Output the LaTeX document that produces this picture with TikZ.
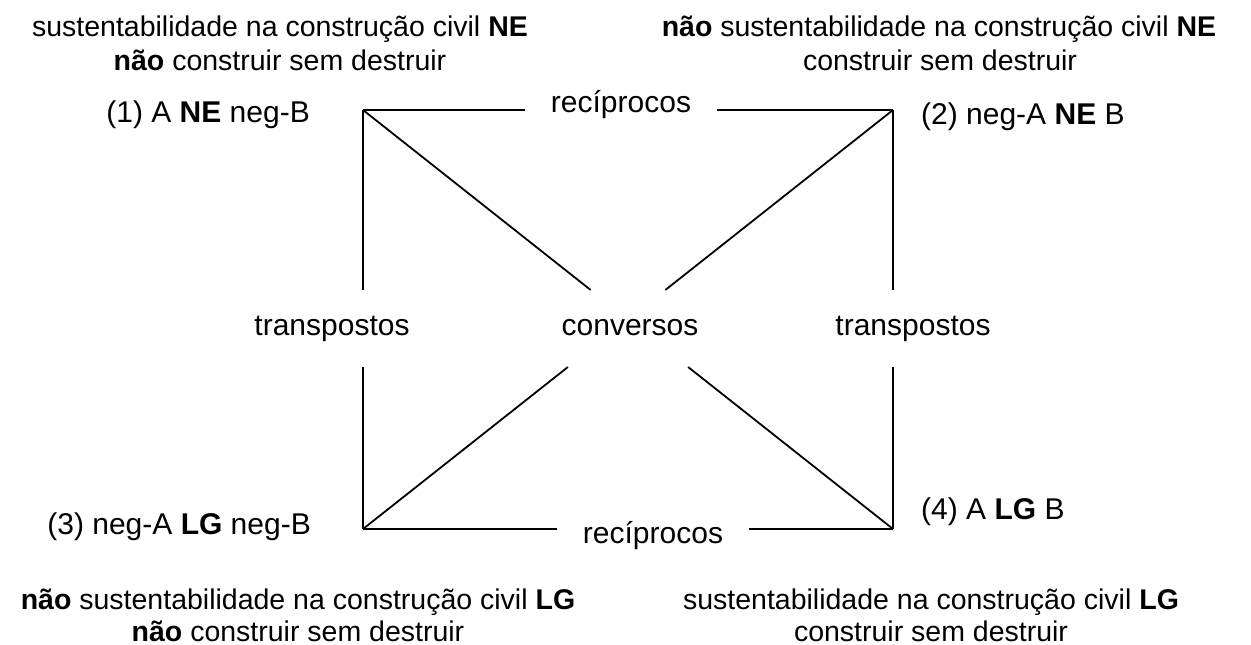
\documentclass[tikz,border=0pt]{standalone}
\usepackage{fontspec}
\setmainfont{Liberation Sans}
\usetikzlibrary{calc}
\begin{document}
\begin{tikzpicture}[x=1pt,y=-1pt,
  edge/.style={line width=1.8pt, line cap=butt},
  txt/.style={inner sep=0pt, font=\fontsize{28.5}{34}\selectfont},
  lab/.style={inner sep=0pt, font=\fontsize{30}{36}\selectfont},
  txtc/.style={txt, anchor=base},
  labc/.style={lab, anchor=base},
  labr/.style={lab, anchor=base east},
  labl/.style={lab, anchor=base west}]
\useasboundingbox (0,0) rectangle (1251,645);
% corners
\coordinate (TL) at (363,110);
\coordinate (TR) at (893,110);
\coordinate (BL) at (363,529);
\coordinate (BR) at (893,529);
% gap ends
\coordinate (topL) at (525,110);
\coordinate (topR) at (717,110);
\coordinate (botL) at (557,529);
\coordinate (botR) at (749,529);
\coordinate (lvT) at (363,290);
\coordinate (lvB) at (363,367);
\coordinate (rvT) at (893,290);
\coordinate (rvB) at (893,367);
\coordinate (d1T) at ($(TL)!0.4296!(BR)$);
\coordinate (d1B) at ($(TL)!0.6134!(BR)$);
\coordinate (d2T) at ($(TR)!0.4296!(BL)$);
\coordinate (d2B) at ($(TR)!0.6134!(BL)$);
% edges
\draw[edge] (TL) -- (topL);
\draw[edge] (topR) -- (TR);
\draw[edge] (BL) -- (botL);
\draw[edge] (botR) -- (BR);
\draw[edge] (TL) -- (lvT);
\draw[edge] (lvB) -- (BL);
\draw[edge] (TR) -- (rvT);
\draw[edge] (rvB) -- (BR);
\draw[edge] (TL) -- (d1T);
\draw[edge] (d1B) -- (BR);
\draw[edge] (TR) -- (d2T);
\draw[edge] (d2B) -- (BL);
% relation labels
\node[labc] (recT) at (621,112) {recíprocos};
\node[labc] (recB) at (653,543) {recíprocos};
\node[labc] (trL) at (332,335) {transpostos};
\node[labc] (conv) at (630,335) {conversos};
\node[labc] (trR) at (913,335) {transpostos};
% corner labels
\node[labr] (p1) at (310,122) {(1) A \textbf{NE} neg-B};
\node[labl] (p2) at (921,124) {(2) neg-A \textbf{NE} B};
\node[labr] (p3) at (311,534) {(3) neg-A \textbf{LG} neg-B};
\node[labl] (p4) at (921,519) {(4) A \textbf{LG} B};
% meaning blocks
\node[txtc] (m1a) at (280,36) {sustentabilidade na construção civil \textbf{NE}};
\node[txtc] (m1b) at (280,70) {\textbf{não} construir sem destruir};
\node[txtc] (m2a) at (939,36) {\textbf{não} sustentabilidade na construção civil \textbf{NE}};
\node[txtc] (m2b) at (940,70) {construir sem destruir};
\node[txtc] (m3a) at (298,609) {\textbf{não} sustentabilidade na construção civil \textbf{LG}};
\node[txtc] (m3b) at (298,641) {\textbf{não} construir sem destruir};
\node[txtc] (m4a) at (931,609) {sustentabilidade na construção civil \textbf{LG}};
\node[txtc] (m4b) at (931,641) {construir sem destruir};
\end{tikzpicture}
\end{document}
